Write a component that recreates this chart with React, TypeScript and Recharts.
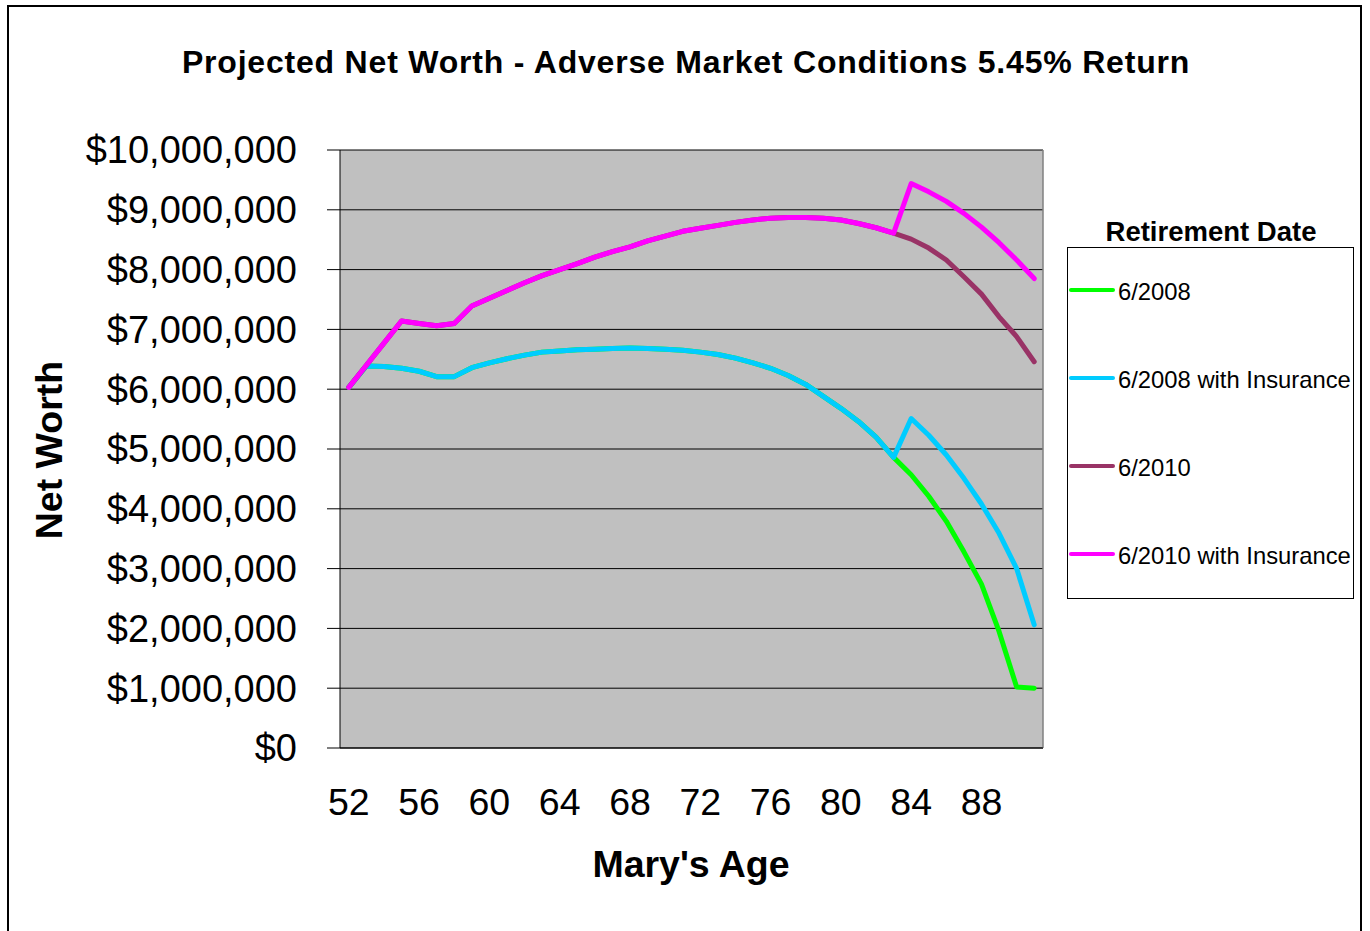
import React from 'react';
import { LineChart, Line, XAxis, YAxis, CartesianGrid, ReferenceLine } from 'recharts';

const FONT = '"Liberation Sans", Arial, Helvetica, sans-serif';

const chartTitle = 'Projected Net Worth - Adverse Market Conditions 5.45% Return';
const xTitle = "Mary's Age";
const yTitle = 'Net Worth';
const legendTitle = 'Retirement Date';

const ages = [
  52, 53, 54, 55, 56, 57, 58, 59, 60, 61,
  62, 63, 64, 65, 66, 67, 68, 69, 70, 71,
  72, 73, 74, 75, 76, 77, 78, 79, 80, 81,
  82, 83, 84, 85, 86, 87, 88, 89, 90, 91,
];

// 6/2008
const ret2008 = [
  6030000, 6390000, 6380000, 6350000, 6300000, 6210000, 6210000, 6360000, 6440000, 6510000,
  6570000, 6620000, 6640000, 6660000, 6670000, 6680000, 6690000, 6680000, 6670000, 6650000,
  6620000, 6580000, 6520000, 6440000, 6350000, 6230000, 6080000, 5880000, 5680000, 5460000,
  5200000, 4860000, 4570000, 4210000, 3790000, 3280000, 2740000, 1950000, 1020000, 1000000,
];

// 6/2008 with Insurance
const ret2008Ins = [
  6030000, 6390000, 6380000, 6350000, 6300000, 6210000, 6210000, 6360000, 6440000, 6510000,
  6570000, 6620000, 6640000, 6660000, 6670000, 6680000, 6690000, 6680000, 6670000, 6650000,
  6620000, 6580000, 6520000, 6440000, 6350000, 6230000, 6080000, 5880000, 5680000, 5460000,
  5200000, 4860000, 5510000, 5230000, 4900000, 4510000, 4080000, 3590000, 3000000, 2060000,
];

// 6/2010
const ret2010 = [
  6030000, 6400000, 6770000, 7140000, 7100000, 7060000, 7100000, 7390000, 7520000, 7650000,
  7780000, 7900000, 8000000, 8100000, 8210000, 8300000, 8380000, 8480000, 8560000, 8640000,
  8690000, 8740000, 8790000, 8830000, 8860000, 8870000, 8870000, 8860000, 8830000, 8770000,
  8700000, 8610000, 8510000, 8360000, 8160000, 7880000, 7590000, 7210000, 6880000, 6460000,
];

// 6/2010 with Insurance
const ret2010Ins = [
  6030000, 6400000, 6770000, 7140000, 7100000, 7060000, 7100000, 7390000, 7520000, 7650000,
  7780000, 7900000, 8000000, 8100000, 8210000, 8300000, 8380000, 8480000, 8560000, 8640000,
  8690000, 8740000, 8790000, 8830000, 8860000, 8870000, 8870000, 8860000, 8830000, 8770000,
  8700000, 8610000, 9440000, 9300000, 9140000, 8940000, 8710000, 8450000, 8160000, 7850000,
];

const yTicks = [0, 1000000, 2000000, 3000000, 4000000, 5000000, 6000000, 7000000, 8000000, 9000000, 10000000];
const xLabelTicks = [52, 56, 60, 64, 68, 72, 76, 80, 84, 88];
const xTickMarks = [51.5, 55.5, 59.5, 63.5, 67.5, 71.5, 75.5, 79.5, 83.5, 87.5, 91.5];

const series = [
  { key: 'ret2008', name: '6/2008', color: '#00FF00' },
  { key: 'ret2008Ins', name: '6/2008 with Insurance', color: '#00CCFF' },
  { key: 'ret2010', name: '6/2010', color: '#993366' },
  { key: 'ret2010Ins', name: '6/2010 with Insurance', color: '#FF00FF' },
];

const data = ages.map((age, i) => ({
  age,
  ret2008: ret2008[i],
  ret2008Ins: ret2008Ins[i],
  ret2010: ret2010[i],
  ret2010Ins: ret2010Ins[i],
}));

const fmt = (v: number) => '$' + v.toLocaleString('en-US');

export default function App() {
  return (
    <div
      style={{
        position: 'absolute',
        left: 0,
        top: 0,
        width: 1370,
        height: 931,
        overflow: 'hidden',
        background: '#fff',
        fontFamily: FONT,
      }}
    >
      <LineChart
        width={1370}
        height={931}
        data={data}
        margin={{ top: 150, right: 327, bottom: 122, left: 0 }}
      >
        <CartesianGrid xAxisId="grid" vertical={false} fill="#C0C0C0" stroke="#000" strokeOpacity={1} />
        <XAxis
          xAxisId="grid"
          dataKey="age"
          type="number"
          domain={[51.5, 91.5]}
          ticks={xTickMarks}
          interval={0}
          tick={false}
          tickSize={13}
          height={1}
          axisLine={{ stroke: '#000' }}
          tickLine={{ stroke: '#000' }}
        />
        <XAxis
          xAxisId="labels"
          dataKey="age"
          type="number"
          domain={[51.5, 91.5]}
          ticks={xLabelTicks}
          interval={0}
          axisLine={false}
          tickLine={false}
          tickSize={0}
          tickMargin={39}
          height={60}
          tick={{ fontSize: 37.5, fill: '#000', fontFamily: FONT }}
        />
        <YAxis
          type="number"
          domain={[0, 10000000]}
          ticks={yTicks}
          interval={0}
          tickFormatter={fmt}
          width={340}
          tickSize={13}
          tickMargin={30}
          tick={{ fontSize: 38, fill: '#000', fontFamily: FONT }}
          axisLine={{ stroke: '#000' }}
          tickLine={{ stroke: '#000' }}
        />
        <ReferenceLine xAxisId="grid" x={91.5} stroke="#808080" strokeWidth={1.5} />
        {series.map((s) => (
          <Line
            key={s.key}
            xAxisId="grid"
            type="linear"
            dataKey={s.key}
            name={s.name}
            stroke={s.color}
            strokeWidth={5}
            strokeLinejoin="round"
            strokeLinecap="round"
            dot={false}
            activeDot={false}
            isAnimationActive={false}
          />
        ))}
      </LineChart>

      <svg
        width={1370}
        height={931}
        style={{ position: 'absolute', left: 0, top: 0, pointerEvents: 'none' }}
      >
        <text
          x={686}
          y={73}
          textAnchor="middle"
          fontFamily={FONT}
          fontWeight="bold"
          fontSize={32}
          letterSpacing={0.8}
          fill="#000"
        >
          {chartTitle}
        </text>
        <text
          x={62}
          y={450}
          transform="rotate(-90, 62, 450)"
          textAnchor="middle"
          fontFamily={FONT}
          fontWeight="bold"
          fontSize={37.5}
          fill="#000"
        >
          {yTitle}
        </text>
        <text
          x={691}
          y={877}
          textAnchor="middle"
          fontFamily={FONT}
          fontWeight="bold"
          fontSize={37.5}
          fill="#000"
        >
          {xTitle}
        </text>
        <text
          x={1211}
          y={241}
          textAnchor="middle"
          fontFamily={FONT}
          fontWeight="bold"
          fontSize={27.5}
          fill="#000"
        >
          {legendTitle}
        </text>
        <rect x={1067.5} y={247.5} width={286} height={351} fill="#fff" stroke="#000" strokeWidth={1} />
        {series.map((s, i) => (
          <g key={s.key}>
            <line
              x1={1071}
              x2={1113}
              y1={290 + i * 88}
              y2={290 + i * 88}
              stroke={s.color}
              strokeWidth={4}
              strokeLinecap="round"
            />
            <text x={1118} y={300 + i * 88} fontFamily={FONT} fontSize={23.8} fill="#000">
              {s.name}
            </text>
          </g>
        ))}
      </svg>

      <div
        style={{
          position: 'absolute',
          left: 7,
          top: 5,
          width: 1355,
          height: 1000,
          boxSizing: 'border-box',
          border: '2px solid #000',
          pointerEvents: 'none',
        }}
      />
    </div>
  );
}
